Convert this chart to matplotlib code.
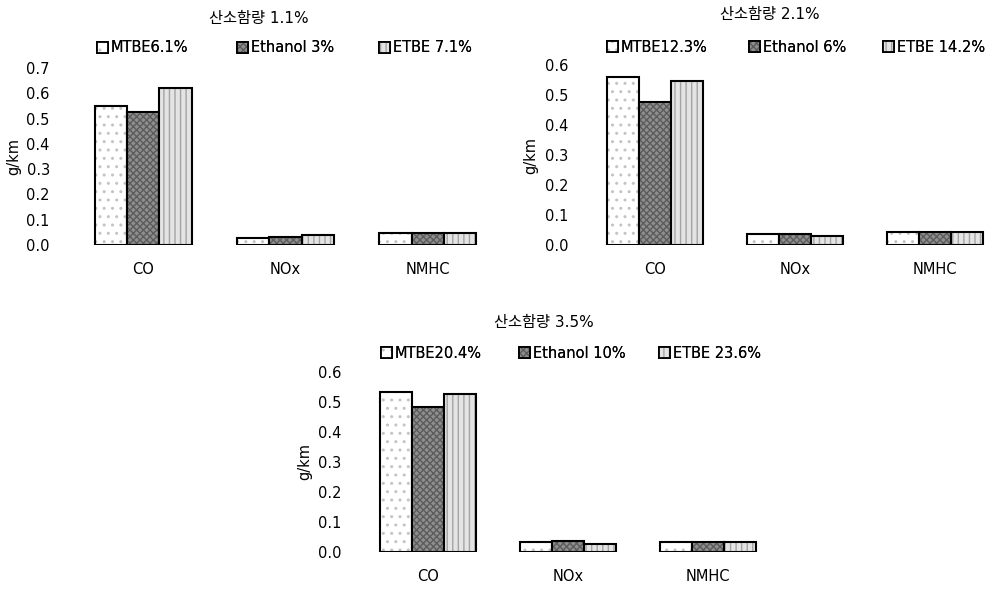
import numpy as np
import matplotlib
matplotlib.use('Agg')
import matplotlib.pyplot as plt
import matplotlib.patches as mpatches

plt.rcParams['font.family'] = ['DejaVu Sans', 'Noto Sans CJK KR']
plt.rcParams['font.size'] = 10.5

CATEGORIES = ['CO', 'NOx', 'NMHC']

TITLES = ['산소함량 1.1%', '산소함량 2.1%', '산소함량 3.5%']

LABELS_1 = ['MTBE6.1%', 'Ethanol 3%', 'ETBE 7.1%']
LABELS_2 = ['MTBE12.3%', 'Ethanol 6%', 'ETBE 14.2%']
LABELS_3 = ['MTBE20.4%', 'Ethanol 10%', 'ETBE 23.6%']

# g/km, order: CO, NOx, NMHC
MTBE_1    = [0.550, 0.029, 0.046]
ETHANOL_1 = [0.527, 0.033, 0.046]
ETBE_1    = [0.620, 0.038, 0.046]

MTBE_2    = [0.559, 0.037, 0.042]
ETHANOL_2 = [0.478, 0.037, 0.042]
ETBE_2    = [0.547, 0.030, 0.042]

MTBE_3    = [0.533, 0.033, 0.034]
ETHANOL_3 = [0.485, 0.037, 0.034]
ETBE_3    = [0.528, 0.027, 0.034]

YTICKS_1 = [0.0, 0.1, 0.2, 0.3, 0.4, 0.5, 0.6, 0.7]
YTICKS_2 = [0.0, 0.1, 0.2, 0.3, 0.4, 0.5, 0.6]

# face colour, hatch, hatch colour
STYLES = [('white', '..', '#c4c4c4'),
          ('#8e8e8e', 'xxxxx', '#5c5c5c'),
          ('#e4e4e4', '|||', '#a4a4a4')]
W = 0.227


def draw_panel(fig, rect, series, labels, yticks, xlim, pad, ylab_x,
               title, title_xy, leg_x, leg_y):
    ax = fig.add_axes(rect)
    x = np.arange(len(CATEGORIES))
    handles = []
    for i, (vals, (fc, hatch, hc)) in enumerate(zip(series, STYLES)):
        xs = x + (i - 1) * W
        ax.bar(xs, vals, W, color=fc, hatch=hatch, edgecolor=hc, linewidth=0)
        ax.bar(xs, vals, W, facecolor='none', edgecolor='black', linewidth=1.5)
        p_fill = mpatches.Patch(facecolor=fc, hatch=hatch, edgecolor=hc, linewidth=0)
        p_edge = mpatches.Patch(facecolor='none', edgecolor='black', linewidth=1.3)
        handles.append((p_fill, p_edge))
    ax.set_xlim(*xlim)
    ax.set_ylim(yticks[0], yticks[-1])
    ax.set_xticks(x)
    ax.set_xticklabels(CATEGORIES)
    ax.set_yticks(yticks)
    ax.set_yticklabels([f'{t:.1f}' for t in yticks])
    ax.tick_params(axis='both', length=0, labelsize=10.5)
    ax.tick_params(axis='y', pad=pad)
    ax.tick_params(axis='x', pad=12)
    for s in ax.spines.values():
        s.set_visible(False)
    ax.set_ylabel('g/km', fontsize=10.5)
    ax.yaxis.set_label_coords(ylab_x, 0.5)

    fig.text(title_xy[0] / 993, 1 - title_xy[1] / 589, title,
             ha='center', va='center', fontsize=11)
    for h, lab, lx in zip(handles, labels, leg_x):
        leg = fig.legend([h], [lab], loc='center left',
                         bbox_to_anchor=(lx / 993, 1 - leg_y / 589),
                         frameon=False, borderpad=0, borderaxespad=0,
                         handlelength=0.75, handleheight=0.75, handletextpad=0.2,
                         fontsize=10.5)
        fig.add_artist(leg)
    return ax


fig = plt.figure(figsize=(9.93, 5.89), dpi=100)

draw_panel(fig, [72 / 993, 1 - 245 / 589, 427 / 993, 177 / 589],
           [MTBE_1, ETHANOL_1, ETBE_1], LABELS_1, YTICKS_1, (-0.5, 2.5), 16, -0.12,
           TITLES[0], (259, 18), [97, 237, 379], 48)

draw_panel(fig, [585 / 993, 1 - 245 / 589, 406 / 993, 180 / 589],
           [MTBE_2, ETHANOL_2, ETBE_2], LABELS_2, YTICKS_2, (-0.5, 2.4), 12, -0.116,
           TITLES[1], (770, 15), [607, 749, 883], 47)

draw_panel(fig, [358 / 993, 1 - 552 / 589, 420 / 993, 180 / 589],
           [MTBE_3, ETHANOL_3, ETBE_3], LABELS_3, YTICKS_2, (-0.5, 2.5), 12, -0.11,
           TITLES[2], (544, 322), [381, 519, 659], 353)

plt.savefig('out.png', dpi=100)
plt.close()
